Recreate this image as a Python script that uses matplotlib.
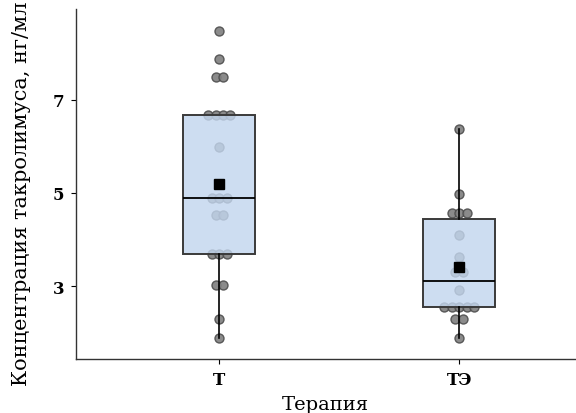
import numpy as np
import matplotlib
matplotlib.use("Agg")
from matplotlib import pyplot as plt

therapy = ["Т", "ТЭ"]
t_values = [8.48, 7.88, 7.48, 7.48, 6.68, 6.68, 6.68, 6.68, 5.99,
            4.88, 4.88, 4.88, 4.52, 4.52, 3.68, 3.68, 3.68,
            3.02, 3.02, 2.29, 1.88]
te_values = [6.37, 4.98, 4.57, 4.57, 4.57, 4.09, 3.63, 3.30, 3.30,
             2.92, 2.54, 2.54, 2.54, 2.54, 2.54, 2.29, 2.29, 1.88]
y_ticks = [3, 5, 7]

plt.rcParams['font.family'] = ['DejaVu Serif']

fig = plt.figure(figsize=(5.76, 4.14), dpi=100)
ax = fig.add_axes([0.132, 0.130, 0.866, 0.846])

groups = [t_values, te_values]
positions = np.arange(len(groups))


def swarm_offsets(values, step=0.031):
    values = np.asarray(values)
    offsets = np.zeros(len(values))
    for v in np.unique(values):
        idx = np.where(values == v)[0]
        n = len(idx)
        offsets[idx] = (np.arange(n) - (n - 1) / 2) * step
    return offsets


for pos, vals in zip(positions, groups):
    xs = pos + swarm_offsets(vals)
    ax.scatter(xs, vals, s=42, color='#7f7f7f', edgecolor='#4d4d4d',
               linewidth=1.0, alpha=0.9, zorder=1)

bp = ax.boxplot(groups, positions=positions, widths=0.3, patch_artist=True,
                showcaps=False, showfliers=False, showmeans=True,
                boxprops=dict(facecolor='#c3d6ee', edgecolor='#3a3a3a',
                              linewidth=1.4),
                medianprops=dict(color='black', linewidth=1.3),
                whiskerprops=dict(color='black', linewidth=1.2),
                meanprops=dict(marker='s', markerfacecolor='black',
                               markeredgecolor='black', markersize=6.5),
                zorder=2)
for box in bp['boxes']:
    box.set_facecolor((0.765, 0.839, 0.933, 0.82))
    box.set_edgecolor('#3a3a3a')
# no upper whisker on the first group in the original
bp['whiskers'][1].set_visible(False)

ax.set_xlim(-0.597, 1.482)
ax.set_ylim(1.43, 8.95)
ax.set_xticks(positions)
ax.set_xticklabels(therapy, fontsize=12, fontweight='bold')
ax.set_yticks(y_ticks)
ax.set_yticklabels([str(v) for v in y_ticks], fontsize=12, fontweight='bold')
ax.tick_params(direction='out', length=3.5, width=0.8, pad=5)

for side in ['top', 'right']:
    ax.spines[side].set_visible(False)
for side in ['left', 'bottom']:
    ax.spines[side].set_linewidth(1.0)
    ax.spines[side].set_color('#333333')

ax.set_xlabel("Терапия", fontsize=14, labelpad=5)
ax.set_ylabel("Концентрация такролимуса, нг/мл", fontsize=15)
ax.yaxis.set_label_coords(-0.09, 0.475)

fig.savefig("out.png", dpi=100)
